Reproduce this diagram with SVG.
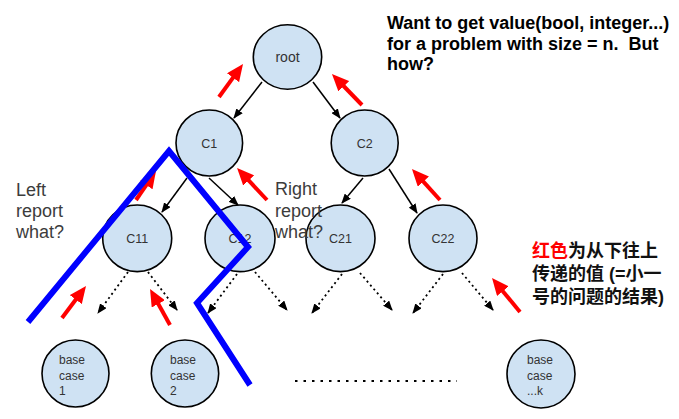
<svg xmlns="http://www.w3.org/2000/svg" width="679" height="419" viewBox="0 0 679 419">
<style>
.node{fill:#cfe2f3;stroke:#000;stroke-width:1.6}
.lbl{font-family:"Liberation Sans",Arial,sans-serif;font-size:12.5px;fill:#333;text-anchor:middle}
.base{font-family:"Liberation Sans",Arial,sans-serif;font-size:12px;fill:#333}
.side{font-family:"Liberation Sans",Arial,sans-serif;font-size:18px;fill:#3c3c3c}
.top{font-family:"Liberation Sans",Arial,sans-serif;font-size:18px;font-weight:bold;fill:#000}
.cn{font-family:"Liberation Sans","Noto Sans CJK SC",sans-serif;font-size:18px;font-weight:bold;fill:#111}
.solid{stroke:#000;stroke-width:1.5;fill:none;marker-end:url(#ah)}
.dot{stroke:#000;stroke-width:1.8;fill:none;stroke-dasharray:2,3.2;marker-end:url(#ah)}
.red{stroke:#f00;stroke-width:4;fill:none;marker-end:url(#rh)}
.blue{stroke:#00f;stroke-width:6;fill:none;stroke-linejoin:miter}
</style>
<defs>
<marker id="ah" markerUnits="userSpaceOnUse" markerWidth="10" markerHeight="8" refX="9" refY="4" orient="auto"><path d="M0,0 L10,4 L0,8 z" fill="#000"/></marker>
<marker id="rh" markerUnits="userSpaceOnUse" markerWidth="17" markerHeight="15" refX="1" refY="7.5" orient="auto"><path d="M0,0 L17,7.5 L0,15 z" fill="#f00"/></marker>
</defs>
<rect width="679" height="419" fill="#fff"/>

<g id="connectors">
<line class="solid" x1="262" y1="82" x2="234" y2="118"/>
<line class="solid" x1="313" y1="82" x2="340" y2="118"/>
<line class="solid" x1="187" y1="178" x2="162" y2="212"/>
<line class="solid" x1="209" y1="178" x2="238" y2="205"/>
<line class="solid" x1="363" y1="178" x2="342" y2="203"/>
<line class="solid" x1="389" y1="169" x2="417" y2="213"/>
<line class="dot" x1="128" y1="272" x2="98" y2="313"/>
<line class="dot" x1="148" y1="272" x2="177" y2="310"/>
<line class="dot" x1="237" y1="274" x2="208" y2="313"/>
<line class="dot" x1="255" y1="272" x2="287" y2="310"/>
<line class="dot" x1="342" y1="274" x2="312" y2="313"/>
<line class="dot" x1="360" y1="273" x2="392" y2="310"/>
<line class="dot" x1="443" y1="274" x2="413" y2="313"/>
<line class="dot" x1="462" y1="273" x2="493" y2="310"/>
<line x1="295" y1="381" x2="457" y2="381" stroke="#000" stroke-width="1.8" stroke-dasharray="2.5,6"/>
</g>

<g id="root"><ellipse class="node" cx="287.5" cy="57" rx="34.2" ry="32.2"/><text class="lbl" x="287.5" y="62" style="font-size:14px">root</text></g>
<g id="c1"><ellipse class="node" cx="209.3" cy="143" rx="33.3" ry="33"/><text class="lbl" x="209.3" y="148">C1</text></g>
<g id="c2"><ellipse class="node" cx="364.7" cy="143" rx="33.5" ry="33"/><text class="lbl" x="364.7" y="148">C2</text></g>
<g id="c11"><ellipse class="node" cx="137.2" cy="238.3" rx="34.5" ry="33.3"/><text class="lbl" x="137.2" y="243">C11</text></g>
<g id="c12"><ellipse class="node" cx="240" cy="238.3" rx="35" ry="33.3"/><text class="lbl" x="240" y="243">C12</text></g>
<g id="c21"><ellipse class="node" cx="340.5" cy="238.3" rx="34.5" ry="33.3"/><text class="lbl" x="340.5" y="243">C21</text></g>
<g id="c22"><ellipse class="node" cx="443" cy="238.3" rx="34" ry="33.3"/><text class="lbl" x="443" y="243">C22</text></g>
<g id="base1"><ellipse class="node" cx="75.5" cy="373.5" rx="33.5" ry="33.5"/><text class="base" x="59" y="364">base</text><text class="base" x="59" y="380">case</text><text class="base" x="59" y="395">1</text></g>
<g id="base2"><ellipse class="node" cx="185" cy="373.5" rx="33.7" ry="33.5"/><text class="base" x="170" y="364">base</text><text class="base" x="170" y="380">case</text><text class="base" x="170" y="395">2</text></g>
<g id="basek"><ellipse class="node" cx="541" cy="374" rx="34" ry="34"/><text class="base" x="527" y="364">base</text><text class="base" x="527" y="380">case</text><text class="base" x="527" y="395">...k</text></g>

<g id="red-arrows">
<line class="red" x1="219" y1="97" x2="233.6" y2="76.9"/>
<line class="red" x1="362" y1="105" x2="343.1" y2="85.5"/>
<line class="red" x1="136" y1="200" x2="146.9" y2="184.2"/>
<line class="red" x1="267" y1="200" x2="248" y2="179.7"/>
<line class="red" x1="440" y1="200" x2="422.7" y2="180.9"/>
<line class="red" x1="62" y1="318" x2="76.4" y2="298.8"/>
<line class="red" x1="170" y1="325" x2="157.8" y2="303"/>
<line class="red" x1="520" y1="312" x2="502.2" y2="290.4"/>
</g>

<g id="texts">
<text class="top" x="387" y="29">Want to get value(bool, integer...)</text>
<text class="top" x="387" y="49.5" xml:space="preserve">for a problem with size = n.  But</text>
<text class="top" x="387" y="70">how?</text>
<text class="side" x="16" y="196">Left</text>
<text class="side" x="16" y="217">report</text>
<text class="side" x="16" y="238">what?</text>
<text class="side" x="275" y="195">Right</text>
<text class="side" x="275" y="217">report</text>
<text class="side" x="275" y="238">what?</text>
<text class="cn" x="532" y="257"><tspan fill="#f00">红色</tspan>为从下往上</text>
<text class="cn" x="532" y="280">传递的值 (=小一</text>
<text class="cn" x="532" y="303">号的问题的结果)</text>
</g>

<g id="blue-path">
<polyline class="blue" points="28,322 169,151 248,247 197,303 250,385"/>
</g>
</svg>
